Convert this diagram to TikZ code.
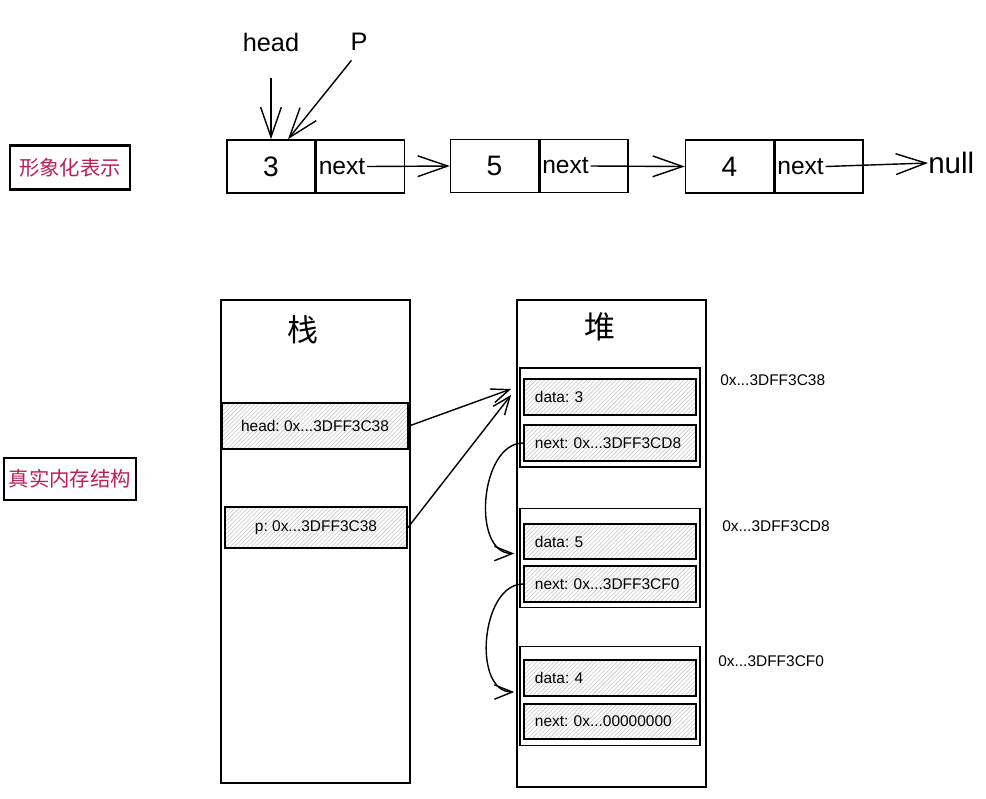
\documentclass[tikz,border=0pt]{standalone}
\usepackage{fontspec}
\setmainfont{Liberation Sans}
\newfontfamily\cjk{Noto Sans CJK SC}
\usetikzlibrary{arrows.meta,patterns,positioning}
\definecolor{labred}{RGB}{190,30,85}
\tikzset{
  cell/.style={draw, line width=1pt, minimum width=2.2cm, minimum height=1.33cm, inner sep=0pt, font=\fontsize{20}{24}\selectfont},
  tag/.style={draw, line width=1.6pt, minimum width=3cm, minimum height=1.1cm, text=labred, font=\cjk\fontsize{14.5}{16}\selectfont},
  column/.style={draw, line width=1pt, minimum width=4.725cm, inner sep=0pt},
  hbox/.style={draw, line width=1pt, minimum width=4.5cm, minimum height=2.48cm, inner sep=0pt},
  slot/.style={draw, line width=1.3pt, pattern=north east lines, pattern color=gray!45, minimum height=0.88cm, font=\fontsize{11}{13}\selectfont},
  hslot/.style={slot, text width=3.75cm, align=left, inner xsep=0.275cm},
  addr/.style={anchor=west, inner xsep=0pt, font=\fontsize{11}{13}\selectfont},
  bigptr/.style={-{Straight Barb[length=0.75cm, width=0.52cm]}, line width=1pt},
  ptr/.style={-{Straight Barb[length=0.45cm, width=0.36cm]}, line width=1pt},
}
\begin{document}
\frenchspacing
\begin{tikzpicture}[x=0.025cm, y=-0.025cm]
\useasboundingbox[fill=white] (0,0) rectangle (986,798);
% figurative view
\node[tag] (t1) at (70,167.5) {形象化表示};
\node[cell] (n1v) at (271,166.5) {3};
\node[cell, right=0pt of n1v] (n1n) {};
\node[cell] (n2v) at (494.5,166) {5};
\node[cell, right=0pt of n2v] (n2n) {};
\node[cell] (n3v) at (729.5,166.5) {4};
\node[cell, right=0pt of n3v] (n3n) {};
\node[inner sep=1pt, font=\fontsize{17.5}{20}\selectfont, right=1pt of n1n.west] (nx1) {next};
\node[inner sep=1pt, font=\fontsize{17.5}{20}\selectfont, right=1pt of n2n.west] (nx2) {next};
\node[inner sep=1pt, font=\fontsize{17.5}{20}\selectfont, right=1pt of n3n.west] (nx3) {next};
\node[inner sep=0pt, font=\fontsize{21}{24}\selectfont, anchor=west] (null) at (928,163) {null};
\node[inner sep=0pt, font=\fontsize{18}{22}\selectfont] (lh) at (271,42) {head};
\node[inner sep=0pt, font=\fontsize{18}{22}\selectfont] (lp) at (359,42) {P};
\draw[bigptr] (nx1.east) -- (n2v.west);
\draw[bigptr] (nx2.east) -- (n3v.west);
\draw[bigptr] (nx3.east) -- (null.west);
\draw[bigptr, shorten <=0.65cm] (lh.south) -- (n1v.north);
\draw[bigptr, shorten <=0.3cm] (lp.south) -- ([xshift=0.425cm]n1v.north);
% memory layout
\node[tag, minimum height=1.05cm] (t2) at (70,479) {真实内存结构};
\node[column, minimum height=12.075cm] (stk) at (315.5,541.5) {};
\node[column, minimum height=12.175cm] (hp) at (611.5,543.5) {};
\node[font=\cjk\fontsize{22}{26}\selectfont] (stt) at (303,330) {栈};
\node[font=\cjk\fontsize{22}{26}\selectfont] (hpt) at (600,327) {堆};
\node[slot, minimum width=4.65cm, minimum height=1.15cm] (he) at (315,426) {head: 0x...3DFF3C38};
\node[slot, minimum width=4.55cm, minimum height=1.03cm] (pe) at (316,527.5) {p: 0x...3DFF3C38};
\node[hbox] (hb1) at (610,417.5) {};
\node[hslot] (d1) at (610,397) {data: 3};
\node[hslot] (x1) at (610,443) {next: 0x...3DFF3CD8};
\node[hbox] (hb2) at (610,558) {};
\node[hslot] (d2) at (610,541.5) {data: 5};
\node[hslot] (x2) at (610,584) {next: 0x...3DFF3CF0};
\node[hbox] (hb3) at (610,696) {};
\node[hslot] (d3) at (610,678) {data: 4};
\node[hslot] (x3) at (610,721.5) {next: 0x...00000000};
\node[addr] (a1) at (720,380) {0x...3DFF3C38};
\node[addr] (a2) at (722,526) {0x...3DFF3CD8};
\node[addr] (a3) at (718,661) {0x...3DFF3CF0};
\draw[ptr] (he.east) -- ([shift={(-0.3cm,0.2cm)}]d1.west);
\draw[ptr] (pe.east) -- ([shift={(-0.3cm,0.05cm)}]d1.west);
\draw[ptr] (x1.west) to[out=180, in=180] ([shift={(-0.22cm,-0.3cm)}]d2.west);
\draw[ptr] (x2.west) to[out=180, in=180] ([shift={(-0.22cm,-0.35cm)}]d3.west);
\end{tikzpicture}
\end{document}
